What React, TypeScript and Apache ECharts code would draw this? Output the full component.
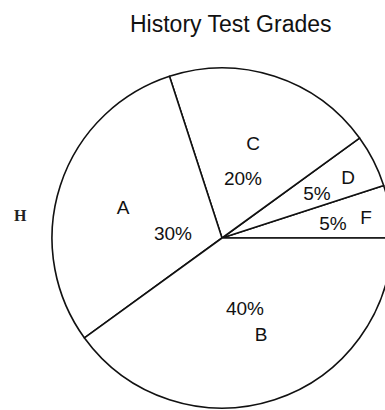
import React, { useEffect, useRef } from "react";
import * as echarts from "echarts";

const grades = ["F", "D", "C", "A", "B"];
const percents = [5, 5, 20, 30, 40];
const titleText = "History Test Grades";
const sideMark = "H";

// label placement (layout only): pixel positions of letter and percent labels
const letterPos: [number, number][] = [
  [366, 217],
  [348, 177],
  [253, 143],
  [123, 207],
  [261, 334],
];
const percentPos: [number, number][] = [
  [333, 223],
  [317, 193],
  [243, 178],
  [173, 233],
  [245, 308],
];

export default function App() {
  const ref = useRef<HTMLDivElement>(null);
  useEffect(() => {
    if (!ref.current) return;
    const chart = echarts.init(ref.current, undefined, { renderer: "svg" });
    const data = grades.map((g, i) => ({ name: g, value: percents[i] }));
    const font = "'Liberation Sans', Arial, sans-serif";
    chart.setOption({
      animation: false,
      backgroundColor: "#fff",
      title: {
        text: titleText,
        left: 125,
        top: 7,
        textStyle: { fontFamily: font, fontSize: 23, fontWeight: "normal", color: "#111" },
      },
      graphic: [
        {
          type: "text",
          left: 14,
          top: 207,
          style: {
            text: sideMark,
            font: "bold 16px 'Liberation Serif', 'Times New Roman', serif",
            fill: "#222",
          },
        },
      ],
      series: [
        {
          type: "pie",
          center: [222, 238],
          radius: 170,
          startAngle: 0,
          clockwise: false,
          avoidLabelOverlap: false,
          data,
          itemStyle: { color: "#fff", borderColor: "#111", borderWidth: 1.6 },
          emphasis: { disabled: true },
          label: {
            show: true,
            position: "inside",
            formatter: "{b}",
            fontFamily: font,
            fontSize: 19,
            color: "#111",
          },
          labelLine: { show: false },
          labelLayout: (p: any) => ({
            x: letterPos[p.dataIndex][0],
            y: letterPos[p.dataIndex][1],
            align: "center",
            verticalAlign: "middle",
          }),
        },
        {
          type: "pie",
          center: [222, 238],
          radius: 170,
          startAngle: 0,
          clockwise: false,
          avoidLabelOverlap: false,
          silent: true,
          data,
          itemStyle: { color: "rgba(0,0,0,0)", borderWidth: 0 },
          emphasis: { disabled: true },
          label: {
            show: true,
            position: "inside",
            formatter: (p: any) => `${p.value}%`,
            fontFamily: font,
            fontSize: 19,
            color: "#111",
          },
          labelLine: { show: false },
          labelLayout: (p: any) => ({
            x: percentPos[p.dataIndex][0],
            y: percentPos[p.dataIndex][1],
            align: "center",
            verticalAlign: "middle",
          }),
        },
      ],
    });
    return () => chart.dispose();
  }, []);
  return (
    <div
      ref={ref}
      style={{ position: "fixed", left: 0, top: 0, width: 385, height: 410, background: "#fff" }}
    />
  );
}
